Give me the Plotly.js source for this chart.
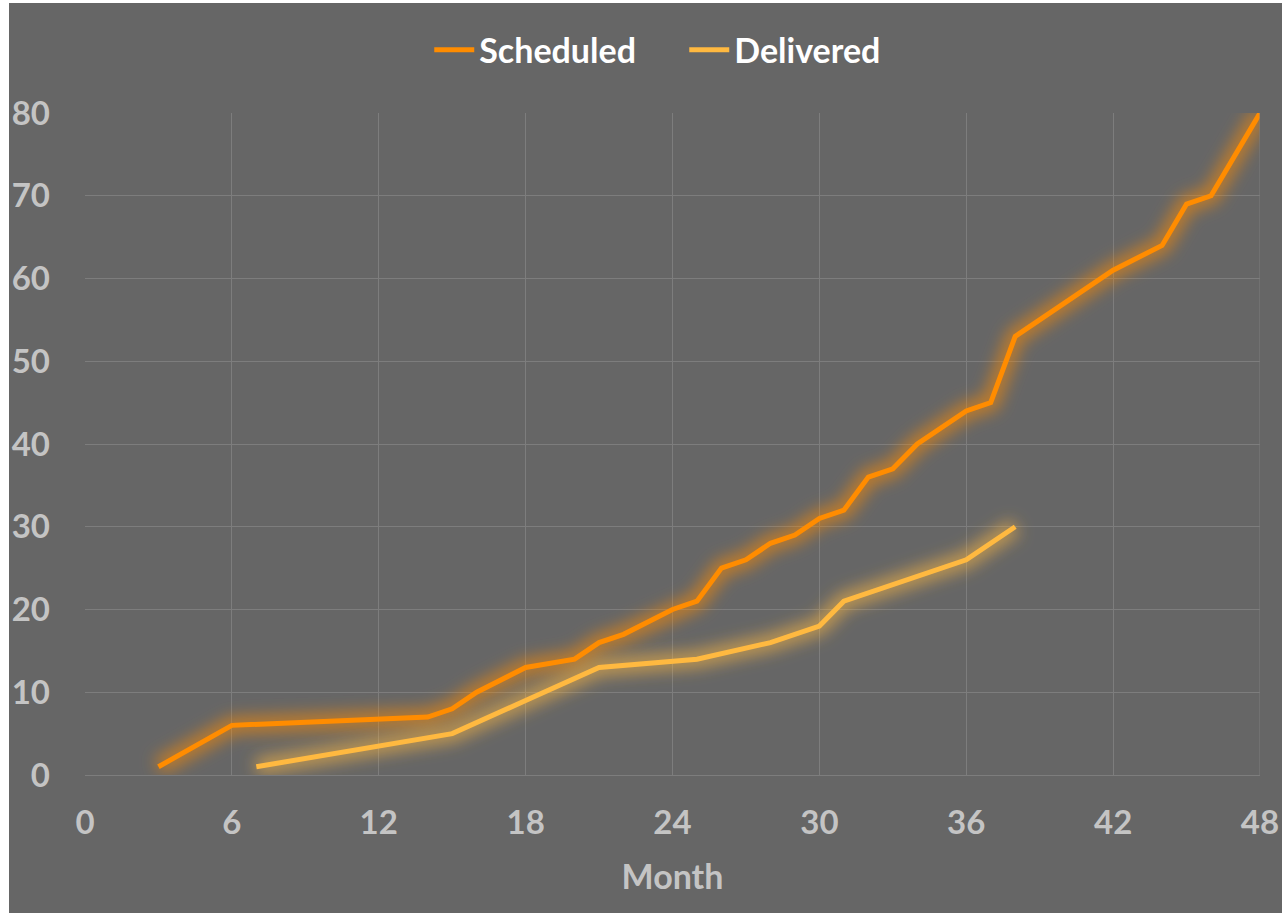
<!DOCTYPE html>
<html>
<head>
<meta charset="utf-8">
<script src="https://cdn.plot.ly/plotly-3.0.1.min.js"></script>
<style>
  html, body { margin: 0; padding: 0; background: #ffffff; }
  #chart { position: absolute; left: 9px; top: 3px; width: 1273px; height: 910px; }
</style>
</head>
<body>
<div id="chart"></div>
<script>
// Data
var scheduledMonths = [3, 6, 14, 15, 16, 18, 20, 21, 22, 24, 25, 26, 27, 28, 29, 30, 31, 32, 33, 34, 36, 37, 38, 42, 44, 45, 46, 48];
var scheduledValues = [1, 6, 7, 8, 10, 13, 14, 16, 17, 20, 21, 25, 26, 28, 29, 31, 32, 36, 37, 40, 44, 45, 53, 61, 64, 69, 70, 80];
var deliveredMonths = [7, 15, 18, 21, 25, 28, 30, 31, 36, 38];
var deliveredValues = [1, 5, 9, 13, 14, 16, 18, 21, 26, 30];
var seriesNames = ['Scheduled', 'Delivered'];
var xTickValues = [0, 6, 12, 18, 24, 30, 36, 42, 48];
var yTickValues = [0, 10, 20, 30, 40, 50, 60, 70, 80];
var xAxisTitle = 'Month';

var colors = ['#FF8C00', '#FFB940'];
var glowRGB = ['255,140,0', '255,185,64'];
var FONT = 'Lato, "Open Sans", "DejaVu Sans", sans-serif';

var series = [
  {x: scheduledMonths, y: scheduledValues},
  {x: deliveredMonths, y: deliveredValues}
];

var traces = [];
// glow traces (blurred after drawing)
series.forEach(function (s, i) {
  traces.push({
    x: s.x, y: s.y, type: 'scatter', mode: 'lines',
    line: {color: 'rgba(' + glowRGB[i] + ',0.6)', width: 17},
    hoverinfo: 'skip', showlegend: false
  });
});
series.forEach(function (s, i) {
  traces.push({
    x: s.x, y: s.y, type: 'scatter', mode: 'lines',
    name: seriesNames[i],
    line: {color: colors[i], width: 5}
  });
});

var layout = {
  width: 1273, height: 910,
  paper_bgcolor: '#666666',
  plot_bgcolor: '#666666',
  margin: {l: 76, r: 22, t: 110, b: 138},
  font: {family: FONT, color: '#c4c4c4'},
  showlegend: true,
  legend: {
    orientation: 'h', x: 0.51, xanchor: 'center', y: 1.095, yanchor: 'middle',
    font: {family: FONT, size: 34, color: '#ffffff', weight: 'bold'},
    bgcolor: 'rgba(0,0,0,0)', itemwidth: 40, entrywidth: 200, tracegroupgap: 0
  },
  xaxis: {
    range: [0, 48], tickvals: xTickValues, ticktext: xTickValues.map(String),
    showgrid: true, gridcolor: '#7d7d7d', gridwidth: 1,
    zeroline: false, showline: true, linecolor: '#7d7d7d', linewidth: 1,
    ticks: '', ticklabelstandoff: 18,
    tickfont: {family: FONT, size: 33, color: '#c4c4c4', weight: 'bold'},
    title: {text: xAxisTitle, standoff: 25, font: {family: FONT, size: 34, color: '#c4c4c4', weight: 'bold'}},
    fixedrange: true
  },
  yaxis: {
    range: [0, 80], tickvals: yTickValues, ticktext: yTickValues.map(String),
    showgrid: true, gridcolor: '#7d7d7d', gridwidth: 1,
    zeroline: false, showline: false,
    ticks: '', ticklabelstandoff: 34,
    tickfont: {family: FONT, size: 33, color: '#c4c4c4', weight: 'bold'},
    fixedrange: true
  },
  shapes: [{
    type: 'line', xref: 'x', yref: 'paper', x0: 48, x1: 48, y0: 0, y1: 1,
    line: {color: '#7d7d7d', width: 1}
  }]
};

Plotly.newPlot('chart', traces, layout, {displayModeBar: false, staticPlot: true}).then(function (gd) {
  var NS = 'http://www.w3.org/2000/svg';
  var svg = gd.querySelector('svg.main-svg');
  var defs = svg.querySelector('defs') || svg.insertBefore(document.createElementNS(NS, 'defs'), svg.firstChild);
  var filter = document.createElementNS(NS, 'filter');
  filter.setAttribute('id', 'glowblur');
  filter.setAttribute('filterUnits', 'userSpaceOnUse');
  filter.setAttribute('x', '-300'); filter.setAttribute('y', '-300');
  filter.setAttribute('width', '2000'); filter.setAttribute('height', '1600');
  var blur = document.createElementNS(NS, 'feGaussianBlur');
  blur.setAttribute('stdDeviation', '8');
  filter.appendChild(blur);
  defs.appendChild(filter);
  var traceGroups = gd.querySelectorAll('.scatterlayer .trace');
  for (var k = 0; k < series.length; k++) {
    var p = traceGroups[k] && traceGroups[k].querySelector('path.js-line');
    if (p) p.setAttribute('filter', 'url(#glowblur)');
  }
});
</script>
</body>
</html>
